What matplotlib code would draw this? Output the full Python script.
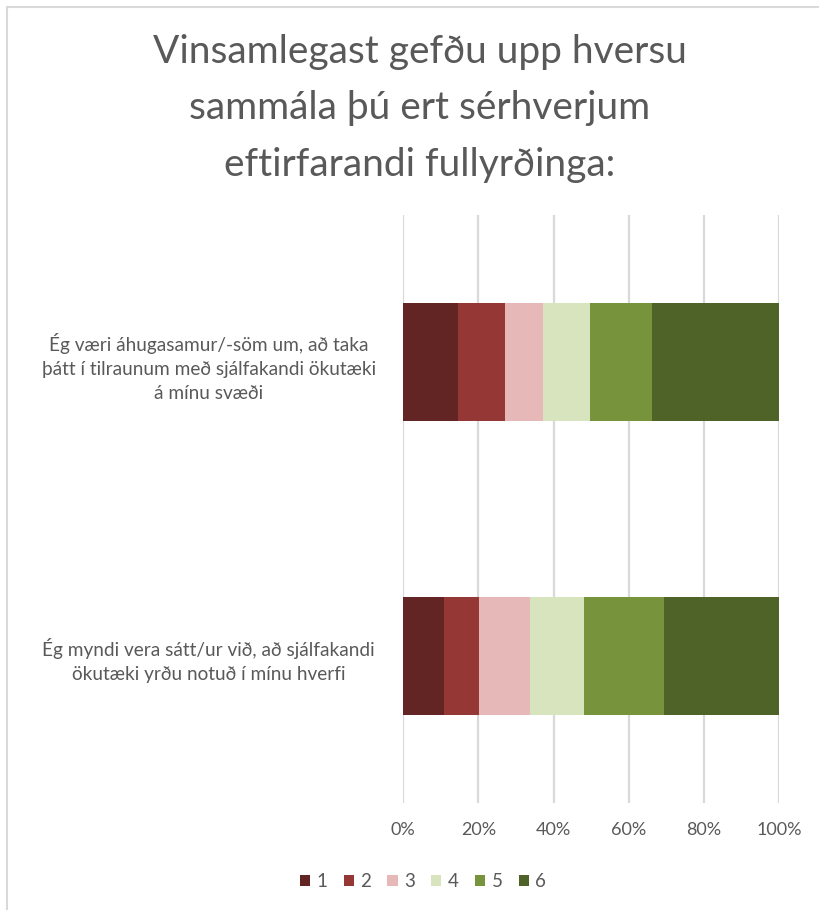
import matplotlib.pyplot as plt
from matplotlib.patches import Rectangle
from matplotlib.ticker import PercentFormatter

plt.rcParams['font.family'] = ['Lato', 'DejaVu Sans']

statements = [
    'Ég væri áhugasamur/-söm um, að taka\nþátt í tilraunum með sjálfakandi ökutæki\ná mínu svæði',
    'Ég myndi vera sátt/ur við, að sjálfakandi\nökutæki yrðu notuð í mínu hverfi',
]
levels = ['1', '2', '3', '4', '5', '6']
# share of answers per level (%), one list per statement
s1 = [14.7, 12.3, 10.2, 12.6, 16.4, 33.8]
s2 = [11.0, 9.2, 13.6, 14.4, 21.1, 30.7]
colors = ['#632523', '#953735', '#E6B9B8', '#D7E4BD', '#77933C', '#4F6228']
grey = '#595959'

fig = plt.figure(figsize=(8.2, 9.1), dpi=100)
ax = fig.add_axes([0.4915, 0.1176, 0.4589, 0.6461])

data = [s1, s2]
left = [0.0, 0.0]
for i, lev in enumerate(levels):
    vals = [row[i] for row in data]
    ax.barh([0, 1], vals, left=left, height=0.4, color=colors[i], label=lev, zorder=3)
    left = [a + b for a, b in zip(left, vals)]

ax.set_xlim(0, 100)
ax.set_ylim(1.5, -0.5)
ax.set_xticks(range(0, 101, 20))
ax.xaxis.set_major_formatter(PercentFormatter(decimals=0))
ax.set_yticks([0, 1])
ax.set_yticklabels(statements, ha='center', linespacing=1.5)
ax.tick_params(axis='y', length=0, pad=140, labelsize=13.7, labelcolor=grey)
ax.tick_params(axis='x', length=0, pad=14, labelsize=13, labelcolor=grey)
ax.grid(axis='x', color='#D9D9D9', lw=1.6, zorder=0)
for sp in ax.spines.values():
    sp.set_visible(False)

fig.text(0.512, 0.881, 'Vinsamlegast gefðu upp hversu\nsammála þú ert sérhverjum\neftirfarandi fullyrðinga:',
         ha='center', va='center', fontsize=28, color=grey, linespacing=1.7)

leg = fig.legend(loc='center', bbox_to_anchor=(0.516, 0.031), ncol=6, frameon=False,
                 handlelength=0.55, handleheight=0.55, handletextpad=0.35, columnspacing=0.85,
                 fontsize=13.5)
for t in leg.get_texts():
    t.set_color(grey)

fig.patches.append(Rectangle((7 / 820, -0.1), 1.2, (910 - 7) / 910 + 0.1,
                             transform=fig.transFigure, fill=False,
                             edgecolor='#D9D9D9', lw=1.5))

fig.savefig('out.png', dpi=100)
